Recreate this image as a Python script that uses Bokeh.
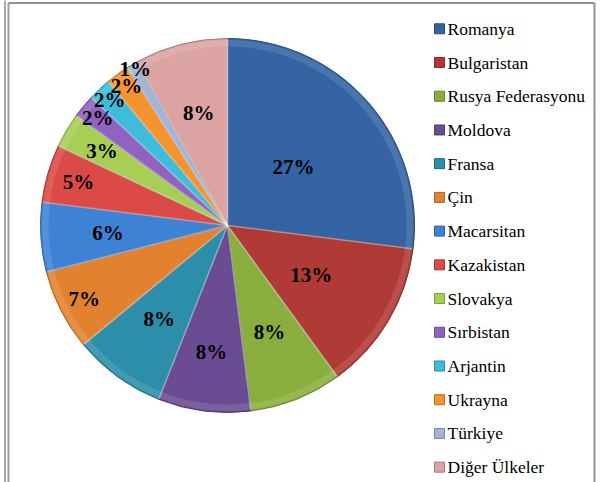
import numpy as np
from bokeh.plotting import figure
from bokeh.models import Range1d
from bokeh.core.properties import value
from bokeh.embed import file_html
from bokeh.resources import INLINE

# ---- data ----
countries = ["Romanya", "Bulgaristan", "Rusya Federasyonu", "Moldova", "Fransa", "Çin",
             "Macarsitan", "Kazakistan", "Slovakya", "Sırbistan", "Arjantin", "Ukrayna",
             "Türkiye", "Diğer Ülkeler"]
shares = [27, 13, 8, 8, 8, 7, 6, 5, 3, 2, 2, 2, 1, 8]
labels = [f"{v}%" for v in shares]

# ---- style ----
colors = ["#3464A3", "#B03A36", "#8AAE3E", "#6A4C92", "#2C8EA9", "#E2822E",
          "#3D82D4", "#DB4A46", "#A8CF55", "#9062C2", "#3DBCDC", "#F5932F",
          "#A3B4D4", "#DBA3A2"]
label_r = [0.47, 0.52, 0.61, 0.68, 0.62, 0.86, 0.64, 0.83, 0.78, 0.90, 0.92, 0.92, 0.97, 0.62]
SERIF = value("Liberation Serif")


def blend(hex_color, other, t):
    c = np.array([int(hex_color[i:i + 2], 16) for i in (1, 3, 5)], float)
    o = np.array([int(other[i:i + 2], 16) for i in (1, 3, 5)], float)
    m = c * (1 - t) + o * t
    return "#%02x%02x%02x" % tuple(int(round(v)) for v in m)


light = [blend(c, "#ffffff", 0.22) for c in colors]
dark = [blend(c, "#000000", 0.25) for c in colors]

# data units = page pixels, y pointing up (data y = -page y)
W, H = 610, 482
p = figure(width=W, height=H, x_range=Range1d(0, W), y_range=Range1d(-H, 0),
           output_backend="svg", toolbar_location=None, min_border=0,
           x_axis_location=None, y_axis_location=None)
p.grid.visible = False
p.outline_line_color = None
p.background_fill_color = "white"

cx, cy, R = 227.0, -225.0, 187.0
vals = np.array(shares, float)
frac = vals / vals.sum()
c1 = np.cumsum(frac)
c0 = c1 - frac
start = np.pi / 2 - 2 * np.pi * c0
end = np.pi / 2 - 2 * np.pi * c1
mid = np.pi / 2 - 2 * np.pi * (c0 + c1) / 2

# base wedges
p.wedge(x=cx, y=cy, radius=R, start_angle=start, end_angle=end, direction="clock",
        fill_color=colors, line_color=dark, line_width=1)
# bevel rim highlight
p.annular_wedge(x=cx, y=cy, inner_radius=R - 8, outer_radius=R - 1.5,
                start_angle=start, end_angle=end, direction="clock",
                fill_color=light, fill_alpha=0.5, line_color=None)
# radial edge highlights
p.segment(x0=cx, y0=cy, x1=cx + (R - 1) * np.cos(start), y1=cy + (R - 1) * np.sin(start),
          line_color="white", line_alpha=0.45, line_width=1.5)

# data labels
lr = np.array(label_r) * R
p.text(x=cx + lr * np.cos(mid), y=cy + lr * np.sin(mid), text=labels,
       text_font=SERIF, text_font_style="bold", text_font_size="21px",
       text_align="center", text_baseline="middle", text_color="black")

# legend (manual)
idx = np.arange(len(countries))
ly = -(28.3 + idx * 33.72)
p.rect(x=439, y=ly, width=10, height=10, fill_color=colors, line_color=dark, line_width=1)
p.text(x=447, y=ly, text=countries, text_font=SERIF,
       text_font_size="17.5px", text_align="left", text_baseline="middle", text_color="black")

# chart frame (decoration)
p.segment(x0=[4.5, 8, 8, 594], y0=[0, -2.5, -2.5, -2.5], x1=[4.5, 8, 594, 594], y1=[-H, -H, -2.5, -H],
          line_color=["#a8a8a8", "#a0a0a0", "#929292", "#929292"], line_width=2)

open("out.html", "w").write(file_html(p, INLINE))
